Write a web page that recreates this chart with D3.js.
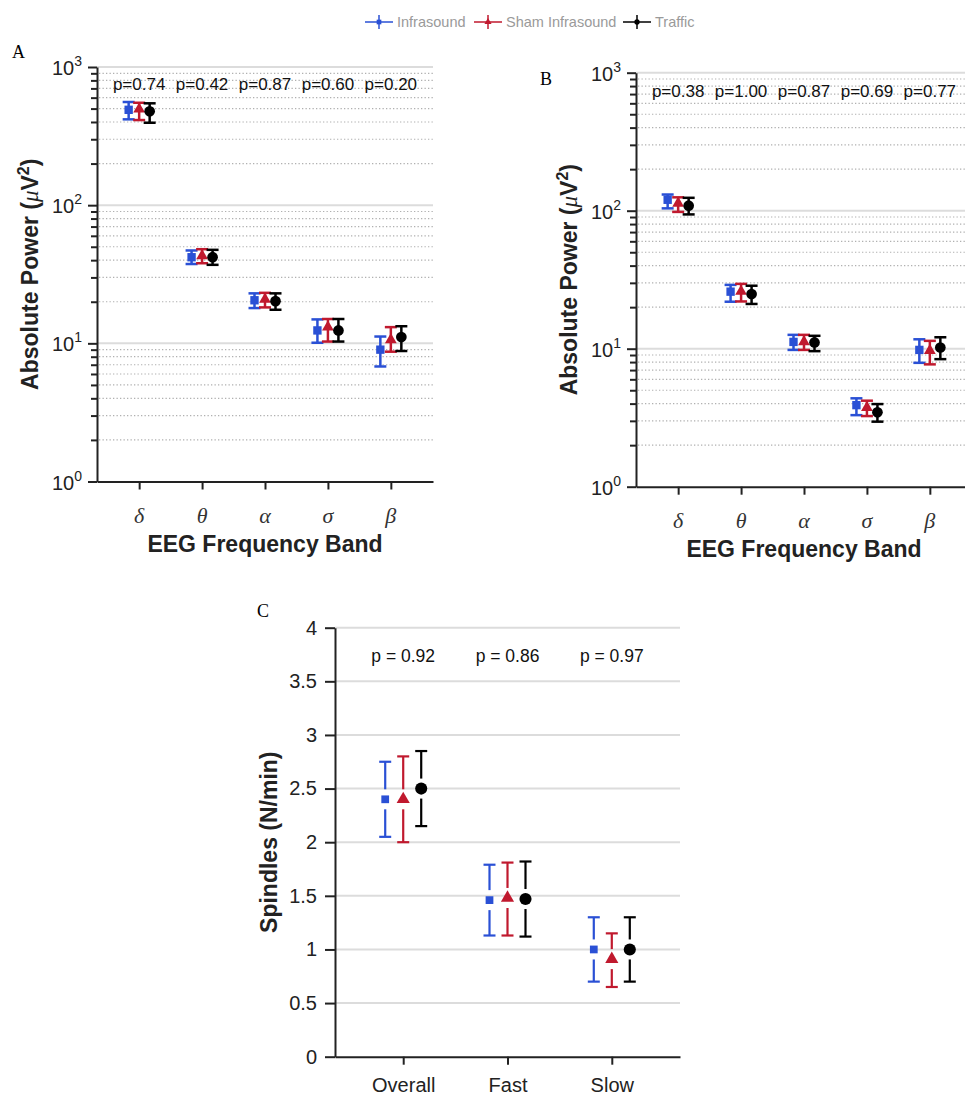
<!DOCTYPE html>
<html>
<head>
<meta charset="utf-8">
<script src="https://cdn.jsdelivr.net/npm/d3@7"></script>
<style>
  body { margin: 0; background: #fff; }
  svg { display: block; font-family: 'Liberation Sans', Arial, sans-serif; }
</style>
</head>
<body>
<script>
// ---- data ----
const groups = ['Infrasound', 'Sham Infrasound', 'Traffic'];
const bands = ['δ', 'θ', 'α', 'σ', 'β'];
const spindleTypes = ['Overall', 'Fast', 'Slow'];

const pValuesA = ['p=0.74', 'p=0.42', 'p=0.87', 'p=0.60', 'p=0.20'];
const pValuesB = ['p=0.38', 'p=1.00', 'p=0.87', 'p=0.69', 'p=0.77'];
const pValuesC = ['p = 0.92', 'p = 0.86', 'p = 0.97'];

// panel A, absolute power (µV²): mean, lower, upper per group
const infraA = [490, 42, 20.5, 12.4, 9.0];
const infraALo = [418, 37.5, 18, 10.1, 6.8];
const infraAHi = [558, 47, 23, 14.9, 11.2];
const shamA = [495, 43, 20.8, 13.1, 10.6];
const shamALo = [413, 38, 18.2, 10.3, 8.7];
const shamAHi = [551, 48, 23.2, 15, 13.1];
const trafficA = [478, 42, 20.2, 12.4, 11.1];
const trafficALo = [395, 37, 17.5, 10.3, 8.8];
const trafficAHi = [546, 47.5, 23, 15, 13.3];

// panel B
const infraB = [120, 25.9, 11.2, 3.9, 9.8];
const infraBLo = [104, 21.9, 9.8, 3.3, 7.9];
const infraBHi = [131, 29, 12.6, 4.37, 11.7];
const shamB = [113, 26, 11.2, 3.74, 9.7];
const shamBLo = [98, 22, 9.8, 3.25, 7.7];
const shamBHi = [125, 29.5, 12.6, 4.2, 11.4];
const trafficB = [108.7, 24.9, 11.1, 3.46, 10.2];
const trafficBLo = [94, 21.1, 9.6, 2.96, 8.4];
const trafficBHi = [124, 28.6, 12.4, 3.97, 12.1];

// panel C, spindles (N/min)
const infraC = [2.40, 1.46, 1.00];
const infraCLo = [2.05, 1.13, 0.70];
const infraCHi = [2.75, 1.79, 1.30];
const shamC = [2.40, 1.48, 0.91];
const shamCLo = [2.00, 1.13, 0.65];
const shamCHi = [2.80, 1.81, 1.15];
const trafficC = [2.50, 1.47, 1.00];
const trafficCLo = [2.15, 1.12, 0.70];
const trafficCHi = [2.85, 1.82, 1.30];

const decades = [1, 10, 100, 1000];
const minorTicks = [1, 10, 100].flatMap(d => d3.range(2, 10).map(k => d * k));
const spindleTicks = d3.range(0, 4.01, 0.5);

// ---- style ----
const colors = ['#2a50d5', '#c0192e', '#000000'];
const shapes = [d3.symbolSquare, d3.symbolTriangle, d3.symbolCircle];
const axisColor = '#222';

const svg = d3.select('body').append('svg')
  .attr('width', 965)
  .attr('height', 1097);

function marker(sel, gi, size) {
  sel.append('path')
    .attr('d', d3.symbol(shapes[gi], size)())
    .attr('fill', colors[gi]);
}

function logPanel(p) {
  const g = svg.append('g');
  const x = d3.scalePoint().domain(bands).range([p.x0, p.x1]).padding(0.67);
  const y = d3.scaleLog().domain([1, 1000]).range([p.yBot, p.yTop]);

  g.selectAll('.minor-grid')
    .data(minorTicks)
    .join('line')
    .attr('x1', p.x0 + 2).attr('x2', p.gridRight)
    .attr('y1', d => y(d)).attr('y2', d => y(d))
    .attr('stroke', '#b0b0b0')
    .attr('stroke-width', 1.2)
    .attr('stroke-dasharray', '1.3,2.2');

  g.selectAll('.major-grid')
    .data(decades.slice(1))
    .join('line')
    .attr('x1', p.x0).attr('x2', p.gridRight)
    .attr('y1', d => y(d)).attr('y2', d => y(d))
    .attr('stroke', '#dcdcdc')
    .attr('stroke-width', 2);

  g.append('g')
    .attr('transform', `translate(${p.x0},0)`)
    .call(d3.axisLeft(y).tickValues(decades).tickSize(9).tickSizeOuter(0).tickFormat(''));
  g.append('g')
    .attr('transform', `translate(${p.x0},0)`)
    .call(d3.axisLeft(y).tickValues(minorTicks).tickSize(6).tickSizeOuter(0).tickFormat(''))
    .call(a => a.select('.domain').remove());
  g.append('g')
    .attr('transform', `translate(0,${p.yBot})`)
    .call(d3.axisBottom(x).tickSize(8).tickSizeOuter(0).tickFormat(''));
  g.selectAll('.domain, .tick line')
    .attr('stroke', axisColor)
    .attr('stroke-width', 2);

  // decade labels 10^n
  const lab = g.selectAll('.dec-label')
    .data(decades)
    .join('text')
    .attr('x', p.x0 - 15)
    .attr('y', d => y(d) + 8)
    .attr('text-anchor', 'end')
    .attr('font-size', 20)
    .attr('fill', '#222');
  lab.append('tspan').text('10');
  lab.append('tspan')
    .attr('dy', -9)
    .attr('font-size', 14)
    .text(d => Math.round(Math.log10(d)));

  // greek band labels
  g.selectAll('.band-label')
    .data(bands)
    .join('text')
    .attr('x', d => x(d))
    .attr('y', p.yBot + 41)
    .attr('text-anchor', 'middle')
    .attr('font-family', "'Liberation Serif', serif")
    .attr('font-style', 'italic')
    .attr('font-size', 22)
    .attr('fill', '#333')
    .text(d => d);

  // p-values
  g.selectAll('.pval')
    .data(p.pvals)
    .join('text')
    .attr('x', (d, i) => x(bands[i]))
    .attr('y', p.pY)
    .attr('text-anchor', 'middle')
    .attr('font-size', 17)
    .attr('fill', '#111')
    .text(d => d);

  // error bars + markers
  const offsets = [-10.5, 0, 10.5];
  p.series.forEach((s, gi) => {
    bands.forEach((b, i) => {
      const cx = x(b) + offsets[gi];
      const eb = g.append('g').attr('stroke', colors[gi]).attr('stroke-width', 2.5);
      eb.append('line').attr('x1', cx).attr('x2', cx).attr('y1', y(s.lo[i])).attr('y2', y(s.hi[i]));
      [s.lo[i], s.hi[i]].forEach(v => {
        eb.append('line').attr('x1', cx - 6).attr('x2', cx + 6).attr('y1', y(v)).attr('y2', y(v));
      });
      g.append('g')
        .attr('transform', `translate(${cx},${y(s.mean[i])})`)
        .call(marker, gi, [70, 60, 90][gi]);
    });
  });

  // titles
  const yt = g.append('text')
    .attr('transform', `translate(${p.titleX},${(p.yTop + p.yBot) / 2}) rotate(-90)`)
    .attr('text-anchor', 'middle')
    .attr('font-size', 23)
    .attr('font-weight', 'bold')
    .attr('fill', '#222');
  yt.append('tspan').text('Absolute Power (');
  yt.append('tspan').attr('font-family', "'Liberation Serif', serif").attr('font-style', 'italic')
    .attr('font-weight', 'normal').text('μ');
  yt.append('tspan').text('V');
  yt.append('tspan').attr('dy', -9).attr('font-size', 16).text('2');
  yt.append('tspan').attr('dy', 9).text(')');

  g.append('text')
    .attr('x', (p.x0 + p.x1) / 2)
    .attr('y', p.yBot + 70)
    .attr('text-anchor', 'middle')
    .attr('font-size', 23)
    .attr('font-weight', 'bold')
    .attr('fill', '#222')
    .text('EEG Frequency Band');

  svg.append('text')
    .attr('x', p.labelX).attr('y', p.labelY)
    .attr('font-family', "'Liberation Serif', serif")
    .attr('font-size', 18)
    .text(p.label);
}

logPanel({
  x0: 97, x1: 433, gridRight: 433, yTop: 67, yBot: 481.5, titleX: 38, pY: 90,
  pvals: pValuesA, label: 'A', labelX: 12, labelY: 58,
  series: [
    { mean: infraA, lo: infraALo, hi: infraAHi },
    { mean: shamA, lo: shamALo, hi: shamAHi },
    { mean: trafficA, lo: trafficALo, hi: trafficAHi }
  ]
});

logPanel({
  x0: 636, x1: 972, gridRight: 965, yTop: 72.7, yBot: 486.7, titleX: 577, pY: 97,
  pvals: pValuesB, label: 'B', labelX: 540, labelY: 85,
  series: [
    { mean: infraB, lo: infraBLo, hi: infraBHi },
    { mean: shamB, lo: shamBLo, hi: shamBHi },
    { mean: trafficB, lo: trafficBLo, hi: trafficBHi }
  ]
});

// ---- panel C ----
const cx0 = 335, cx1 = 680, cTop = 627.7, cBot = 1056.7;
const gC = svg.append('g');
const xC = d3.scalePoint().domain(spindleTypes).range([cx0, cx1]).padding(0.654);
const yC = d3.scaleLinear().domain([0, 4]).range([cBot, cTop]);

gC.selectAll('.grid')
  .data(spindleTicks.slice(1))
  .join('line')
  .attr('x1', cx0).attr('x2', cx1)
  .attr('y1', d => yC(d)).attr('y2', d => yC(d))
  .attr('stroke', '#dcdcdc')
  .attr('stroke-width', 2);

gC.append('g')
  .attr('transform', `translate(${cx0},0)`)
  .call(d3.axisLeft(yC).tickValues(spindleTicks).tickSize(10).tickSizeOuter(0).tickPadding(8).tickFormat(d3.format('~g')))
  .call(a => a.selectAll('text').attr('font-size', 20).attr('fill', '#222').attr('font-family', "'Liberation Sans', Arial"));
gC.append('g')
  .attr('transform', `translate(0,${cBot})`)
  .call(d3.axisBottom(xC).tickSize(8).tickSizeOuter(0).tickPadding(13))
  .call(a => a.selectAll('text').attr('font-size', 20).attr('fill', '#222').attr('font-family', "'Liberation Sans', Arial"));
gC.selectAll('.domain, .tick line')
  .attr('stroke', axisColor)
  .attr('stroke-width', 2);

gC.selectAll('.pval')
  .data(pValuesC)
  .join('text')
  .attr('x', (d, i) => xC(spindleTypes[i]))
  .attr('y', 661.7)
  .attr('text-anchor', 'middle')
  .attr('font-size', 17.5)
  .attr('fill', '#111')
  .text(d => d);

const seriesC = [
  { mean: infraC, lo: infraCLo, hi: infraCHi },
  { mean: shamC, lo: shamCLo, hi: shamCHi },
  { mean: trafficC, lo: trafficCLo, hi: trafficCHi }
];
const offsetsC = [-18, 0, 18];
const gap = 10;
seriesC.forEach((s, gi) => {
  spindleTypes.forEach((t, i) => {
    const cx = xC(t) + offsetsC[gi];
    const my = yC(s.mean[i]);
    const eb = gC.append('g').attr('stroke', colors[gi]).attr('stroke-width', 2.2);
    eb.append('line').attr('x1', cx).attr('x2', cx).attr('y1', yC(s.hi[i])).attr('y2', my - gap);
    eb.append('line').attr('x1', cx).attr('x2', cx).attr('y1', my + gap).attr('y2', yC(s.lo[i]));
    [s.lo[i], s.hi[i]].forEach(v => {
      eb.append('line').attr('x1', cx - 6).attr('x2', cx + 6).attr('y1', yC(v)).attr('y2', yC(v));
    });
    gC.append('g')
      .attr('transform', `translate(${cx},${my})`)
      .call(marker, gi, [60, 75, 115][gi]);
  });
});

gC.append('text')
  .attr('transform', `translate(277,${(cTop + cBot) / 2}) rotate(-90)`)
  .attr('text-anchor', 'middle')
  .attr('font-size', 23)
  .attr('font-weight', 'bold')
  .attr('fill', '#222')
  .text('Spindles (N/min)');

svg.append('text')
  .attr('x', 257).attr('y', 617)
  .attr('font-family', "'Liberation Serif', serif")
  .attr('font-size', 18)
  .text('C');

// ---- legend ----
const legendX = [365, 474, 623];
const legend = svg.append('g').attr('transform', 'translate(0,22)');
groups.forEach((name, gi) => {
  const lx = legendX[gi];
  const item = legend.append('g').attr('transform', `translate(${lx},0)`);
  item.append('line').attr('x1', 0).attr('x2', 28).attr('stroke', colors[gi]).attr('stroke-width', 1.5);
  item.append('line').attr('x1', 14).attr('x2', 14).attr('y1', -7).attr('y2', 7)
    .attr('stroke', colors[gi]).attr('stroke-width', 1.5);
  item.append('g').attr('transform', 'translate(14,0)').call(marker, gi, 22);
  item.append('text')
    .attr('x', 32).attr('y', 5)
    .attr('font-size', 14.5)
    .attr('fill', '#9a9a9a')
    .text(name);
});
</script>
</body>
</html>
